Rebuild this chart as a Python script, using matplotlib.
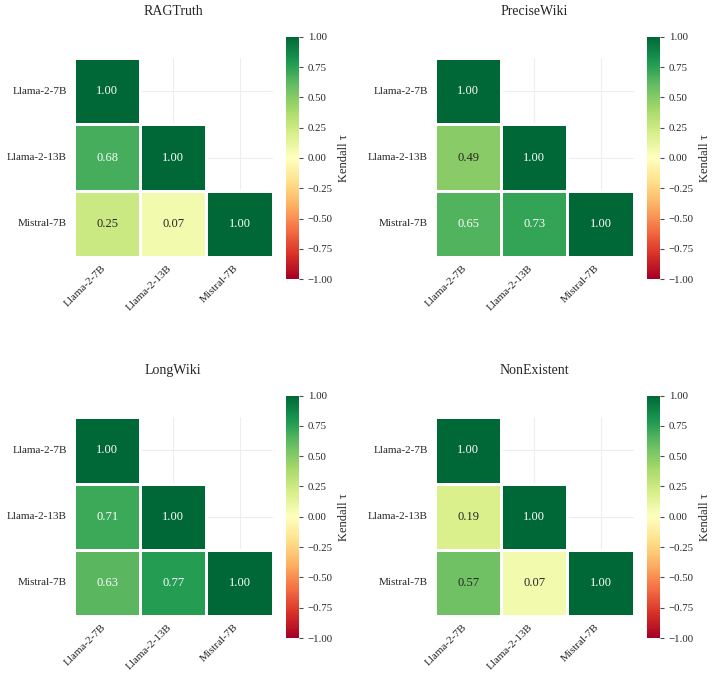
import numpy as np
import matplotlib
matplotlib.use("Agg")
import matplotlib.pyplot as plt
import seaborn as sns

sns.set_style("whitegrid")
plt.rcParams['font.family'] = ['Liberation Serif', 'DejaVu Serif']
plt.rcParams['axes.unicode_minus'] = True

# Data
models = ["Llama-2-7B", "Llama-2-13B", "Mistral-7B"]
titles = ["RAGTruth", "PreciseWiki", "LongWiki", "NonExistent"]

rag_truth = [[1.00, np.nan, np.nan],
             [0.68, 1.00, np.nan],
             [0.25, 0.07, 1.00]]
precise_wiki = [[1.00, np.nan, np.nan],
                [0.49, 1.00, np.nan],
                [0.65, 0.73, 1.00]]
long_wiki = [[1.00, np.nan, np.nan],
             [0.71, 1.00, np.nan],
             [0.63, 0.77, 1.00]]
non_existent = [[1.00, np.nan, np.nan],
                [0.19, 1.00, np.nan],
                [0.57, 0.07, 1.00]]
matrices = [rag_truth, precise_wiki, long_wiki, non_existent]

cbar_ticks = [-1.0, -0.75, -0.5, -0.25, 0.0, 0.25, 0.5, 0.75, 1.0]

W, H = 714, 679
fig = plt.figure(figsize=(W / 100, H / 100), dpi=100)

# pixel boxes (left, top) for heatmap and colorbar of each panel
hm_left = [74, 435]
hm_top = [58.3, 417.3]
hm_size = 198.6
cb_left = [285.7, 646.7]
cb_top = [36.7, 395.5]
cb_w, cb_h = 13, 242.5

mask = np.triu(np.ones((3, 3), dtype=bool), k=1)

for i, (title, mat) in enumerate(zip(titles, matrices)):
    r, c = divmod(i, 2)
    ax = fig.add_axes([hm_left[c] / W, 1 - (hm_top[r] + hm_size) / H, hm_size / W, hm_size / H])
    cax = fig.add_axes([cb_left[c] / W, 1 - (cb_top[r] + cb_h) / H, cb_w / W, cb_h / H])
    data = np.array(mat)
    sns.heatmap(data, mask=mask, ax=ax, cbar_ax=cax, cmap="RdYlGn", vmin=-1, vmax=1,
                annot=True, fmt=".2f", annot_kws={"fontsize": 9},
                linewidths=1, linecolor="white", square=True,
                xticklabels=models, yticklabels=models,
                cbar_kws={"ticks": cbar_ticks})
    # no white edges on the hidden (masked) cells, so the grid shows through
    mesh = ax.collections[0]
    ec = np.tile([1.0, 1.0, 1.0, 1.0], (mask.size, 1))
    ec[mask.ravel(), 3] = 0.0
    mesh.set_edgecolor(ec)

    ax.set_axisbelow(True)
    ax.grid(True, color="#eeeeee", linewidth=0.8)
    ax.tick_params(axis="both", length=3, width=0.8, color="0.3", labelsize=8, pad=2)
    ax.set_xticklabels(models, rotation=45, ha="right")
    ax.set_yticklabels(models, rotation=0)
    ax.set_title(title, fontsize=10, pad=31)

    cb = mesh.colorbar
    cb.outline.set_linewidth(0)
    cb.ax.tick_params(length=3, width=0.8, color="0.3", labelsize=7.8)
    cb.ax.set_yticklabels([f"{t:.2f}".replace("-", "\u2212") for t in cbar_ticks])
    cb.set_label("Kendall \u03c4", fontsize=9)

fig.savefig("out.png", dpi=100)
